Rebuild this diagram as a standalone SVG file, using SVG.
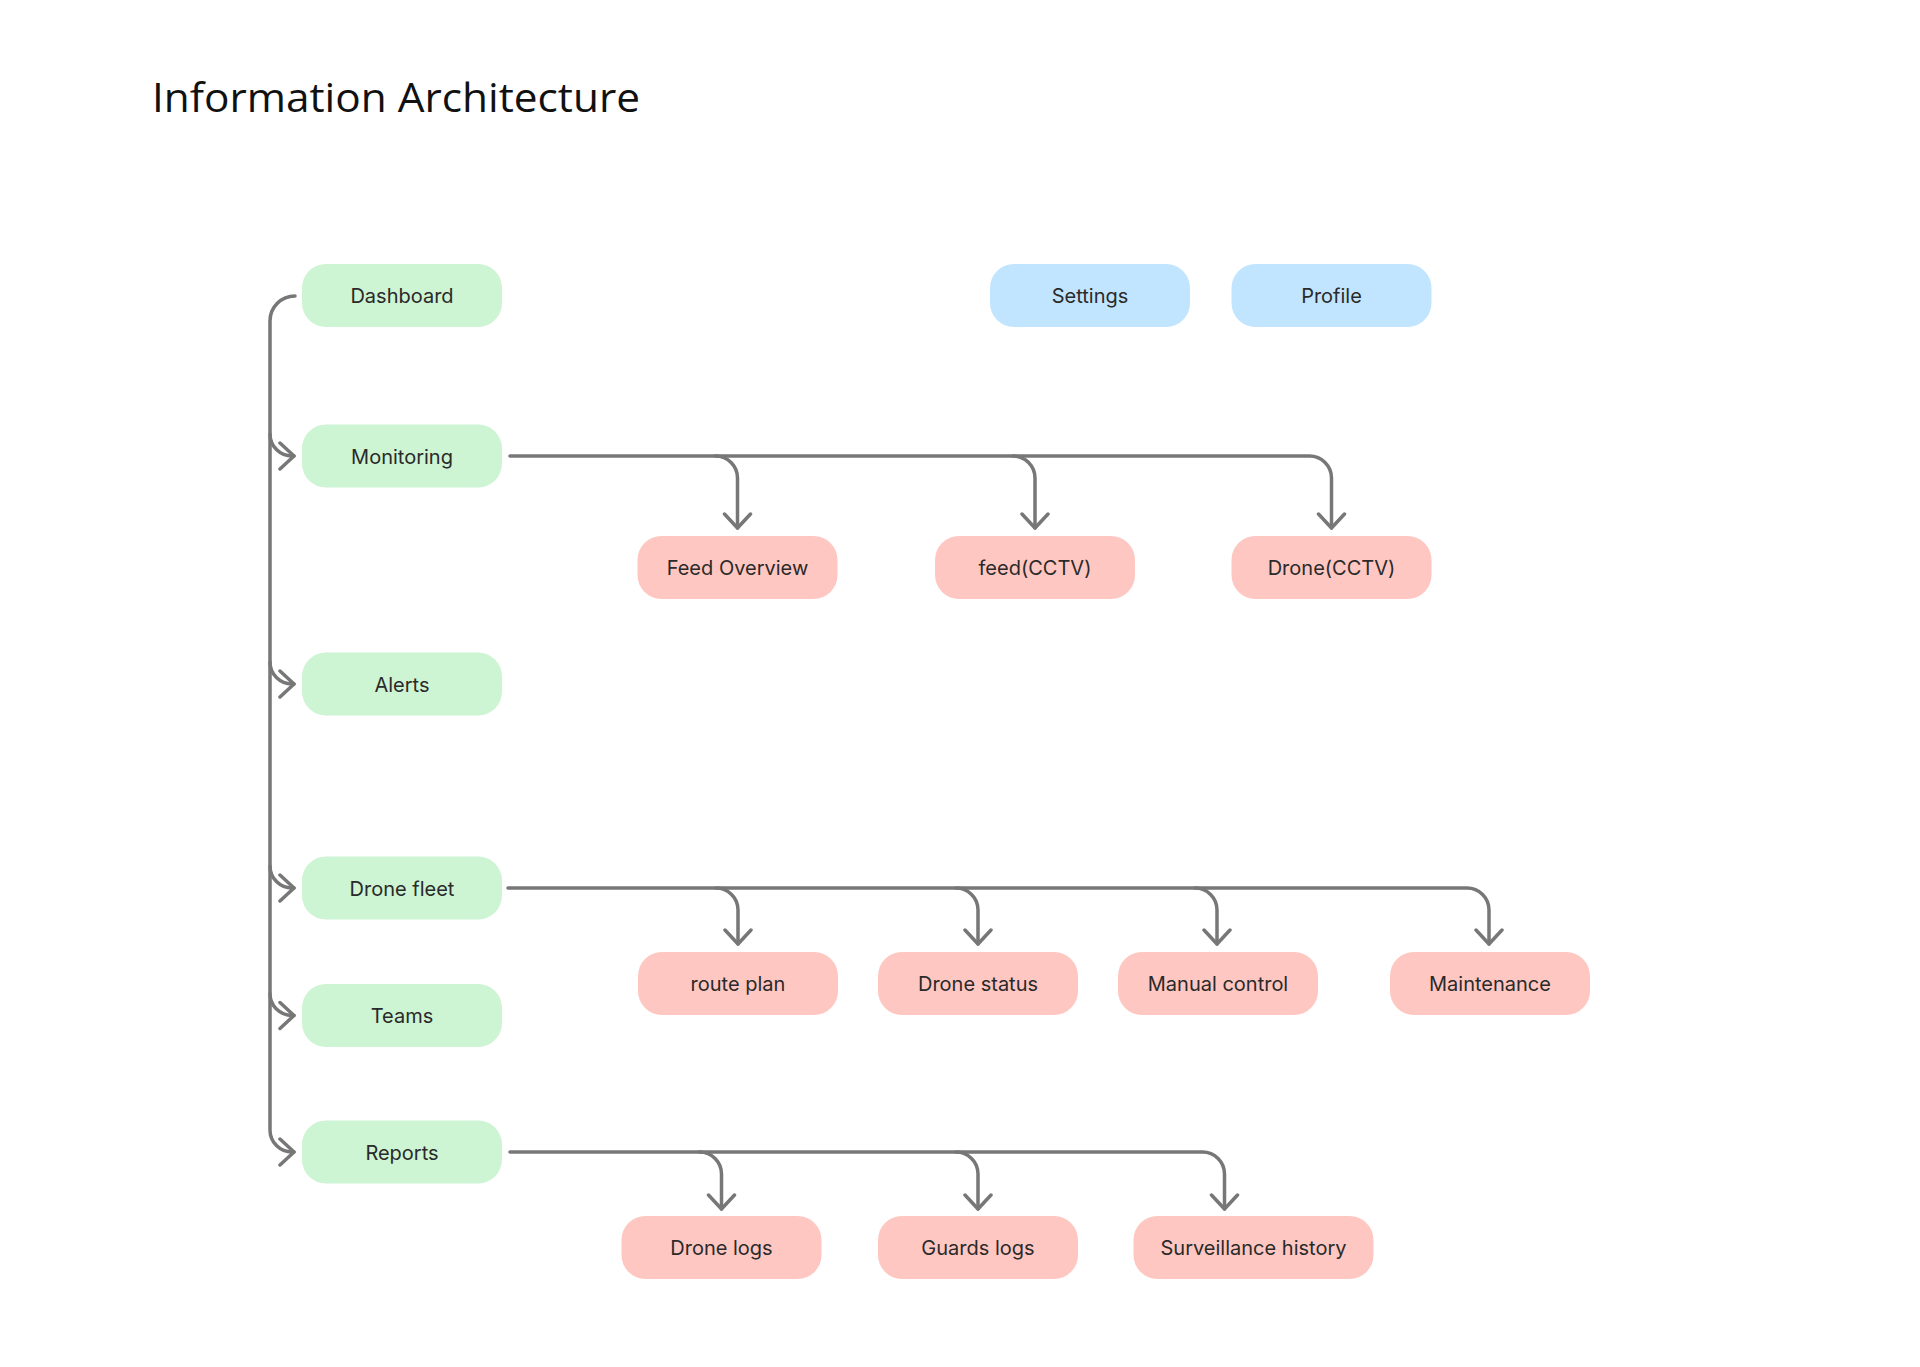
<svg xmlns="http://www.w3.org/2000/svg" width="1920" height="1367" viewBox="0 0 1920 1367">
<style>
.g{fill:#CDF4D3}
.b{fill:#C2E5FF}
.p{fill:#FFC7C2}
.t{font-family:Inter,"Liberation Sans",sans-serif;font-size:20px;fill:#2a2a2a;text-anchor:middle}
.c{fill:none;stroke:#777777;stroke-width:3.5;stroke-linecap:round;stroke-linejoin:round}
</style>
<defs>
<marker id="ah" viewBox="-16 -16 20 32" markerWidth="20" markerHeight="32" refX="0" refY="0" orient="auto" markerUnits="userSpaceOnUse">
<path d="M-14,-13 L0,0 L-14,13" fill="none" stroke="#777777" stroke-width="3.5" stroke-linecap="round" stroke-linejoin="round"/>
</marker>
</defs>
<rect width="1920" height="1367" fill="#ffffff"/>
<text x="152" y="112" font-family="'Open Sans','Liberation Sans',sans-serif" font-size="40" fill="#111111" textLength="488" lengthAdjust="spacingAndGlyphs">Information Architecture</text>

<g id="connectors">
<path class="c" d="M295,296 A25,25 0 0 0 270,321 V1130 A22,22 0 0 0 292,1152 H294" marker-end="url(#ah)"/>
<path class="c" d="M270,434 A22,22 0 0 0 292,456 H294" marker-end="url(#ah)"/>
<path class="c" d="M270,662 A22,22 0 0 0 292,684 H294" marker-end="url(#ah)"/>
<path class="c" d="M270,866 A22,22 0 0 0 292,888 H294" marker-end="url(#ah)"/>
<path class="c" d="M270,993.5 A22,22 0 0 0 292,1015.5 H294" marker-end="url(#ah)"/>

<path class="c" d="M510,456 H1309.5 A22,22 0 0 1 1331.5,478 V528" marker-end="url(#ah)"/>
<path class="c" d="M715.5,456 A22,22 0 0 1 737.5,478 V528" marker-end="url(#ah)"/>
<path class="c" d="M1013,456 A22,22 0 0 1 1035,478 V528" marker-end="url(#ah)"/>

<path class="c" d="M508,888 H1467 A22,22 0 0 1 1489,910 V944" marker-end="url(#ah)"/>
<path class="c" d="M716,888 A22,22 0 0 1 738,910 V944" marker-end="url(#ah)"/>
<path class="c" d="M956,888 A22,22 0 0 1 978,910 V944" marker-end="url(#ah)"/>
<path class="c" d="M1195,888 A22,22 0 0 1 1217,910 V944" marker-end="url(#ah)"/>

<path class="c" d="M510,1152 H1202.5 A22,22 0 0 1 1224.5,1174 V1209" marker-end="url(#ah)"/>
<path class="c" d="M699.5,1152 A22,22 0 0 1 721.5,1174 V1209" marker-end="url(#ah)"/>
<path class="c" d="M956,1152 A22,22 0 0 1 978,1174 V1209" marker-end="url(#ah)"/>
</g>

<g id="dashboard"><rect class="g" x="302" y="264" width="200" height="63" rx="24"/><text class="t" x="402" y="303">Dashboard</text></g>
<g id="monitoring"><rect class="g" x="302" y="424.5" width="200" height="63" rx="24"/><text class="t" x="402" y="463.5">Monitoring</text></g>
<g id="alerts"><rect class="g" x="302" y="652.5" width="200" height="63" rx="24"/><text class="t" x="402" y="691.5">Alerts</text></g>
<g id="drone-fleet"><rect class="g" x="302" y="856.5" width="200" height="63" rx="24"/><text class="t" x="402" y="895.5">Drone fleet</text></g>
<g id="teams"><rect class="g" x="302" y="984" width="200" height="63" rx="24"/><text class="t" x="402" y="1023">Teams</text></g>
<g id="reports"><rect class="g" x="302" y="1120.5" width="200" height="63" rx="24"/><text class="t" x="402" y="1159.5">Reports</text></g>

<g id="settings"><rect class="b" x="990" y="264" width="200" height="63" rx="24"/><text class="t" x="1090" y="303">Settings</text></g>
<g id="profile"><rect class="b" x="1231.5" y="264" width="200" height="63" rx="24"/><text class="t" x="1331.5" y="303">Profile</text></g>

<g id="feed-overview"><rect class="p" x="637.5" y="536" width="200" height="63" rx="24"/><text class="t" x="737.5" y="575">Feed Overview</text></g>
<g id="feed-cctv"><rect class="p" x="935" y="536" width="200" height="63" rx="24"/><text class="t" x="1035" y="575">feed(CCTV)</text></g>
<g id="drone-cctv"><rect class="p" x="1231.5" y="536" width="200" height="63" rx="24"/><text class="t" x="1331.5" y="575">Drone(CCTV)</text></g>

<g id="route-plan"><rect class="p" x="638" y="952" width="200" height="63" rx="24"/><text class="t" x="738" y="991">route plan</text></g>
<g id="drone-status"><rect class="p" x="878" y="952" width="200" height="63" rx="24"/><text class="t" x="978" y="991">Drone status</text></g>
<g id="manual-control"><rect class="p" x="1118" y="952" width="200" height="63" rx="24"/><text class="t" x="1218" y="991">Manual control</text></g>
<g id="maintenance"><rect class="p" x="1390" y="952" width="200" height="63" rx="24"/><text class="t" x="1490" y="991">Maintenance</text></g>

<g id="drone-logs"><rect class="p" x="621.5" y="1216" width="200" height="63" rx="24"/><text class="t" x="721.5" y="1255">Drone logs</text></g>
<g id="guards-logs"><rect class="p" x="878" y="1216" width="200" height="63" rx="24"/><text class="t" x="978" y="1255">Guards logs</text></g>
<g id="surveillance-history"><rect class="p" x="1133.5" y="1216" width="240" height="63" rx="24"/><text class="t" x="1253.5" y="1255">Surveillance history</text></g>
</svg>
